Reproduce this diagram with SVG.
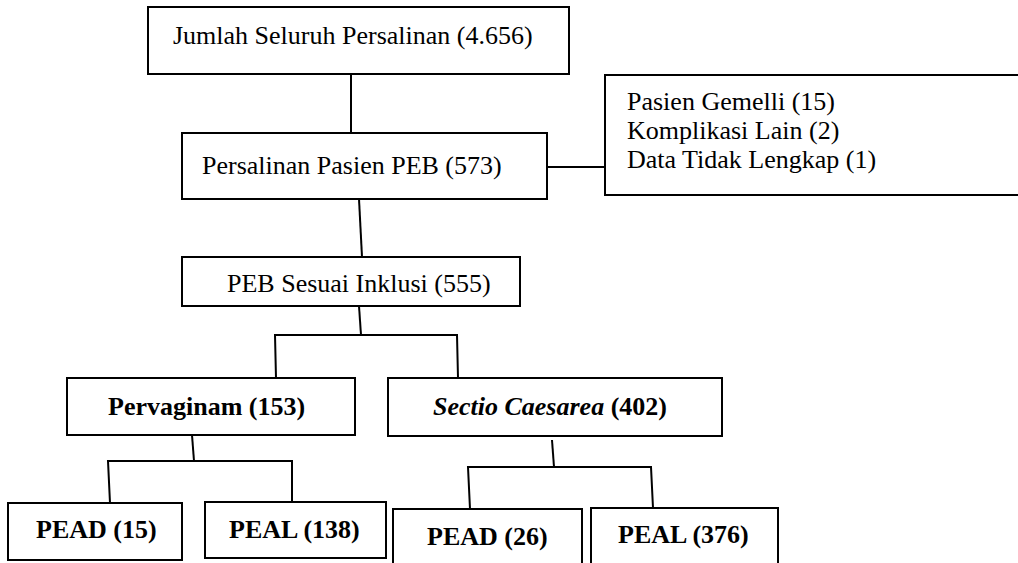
<svg xmlns="http://www.w3.org/2000/svg" width="1018" height="563" viewBox="0 0 1018 563">
<style>
.box{fill:#fff;stroke:#000;stroke-width:2}
.t{font-family:"Liberation Serif","Times New Roman",serif;font-size:26px;fill:#000}
.b{font-weight:bold}
.conn line,.conn polyline{stroke:#000;stroke-width:2;fill:none}
</style>
<rect width="1018" height="563" fill="#fff"/>
<g class="conn" id="connectors">
<line x1="351" y1="74" x2="351" y2="133"/>
<line x1="547" y1="167" x2="605" y2="167"/>
<line x1="359" y1="199" x2="362" y2="257"/>
<line x1="359" y1="306" x2="361" y2="335"/>
<polyline points="276,378 275,335 457,335 458,378"/>
<line x1="192" y1="435" x2="194" y2="461"/>
<polyline points="110,503 108,461 292,461 292,502"/>
<line x1="552" y1="440" x2="554" y2="467"/>
<polyline points="470,509 468,467 651,467 653,508"/>
</g>
<g id="n1"><rect class="box" x="148" y="7" width="421" height="67"/><text class="t" x="173" y="44">Jumlah Seluruh Persalinan (4.656)</text></g>
<g id="n2"><rect class="box" x="182" y="133" width="365" height="66"/><text class="t" x="202" y="174">Persalinan Pasien PEB (573)</text></g>
<g id="n3"><rect class="box" x="605" y="75" width="420" height="120"/>
<text class="t" x="627" y="110">Pasien Gemelli (15)</text>
<text class="t" x="627" y="139">Komplikasi Lain (2)</text>
<text class="t" x="627" y="168">Data Tidak Lengkap (1)</text></g>
<g id="n4"><rect class="box" x="182" y="257" width="338" height="49"/><text class="t" x="227" y="292">PEB Sesuai Inklusi (555)</text></g>
<g id="n5"><rect class="box" x="67" y="378" width="288" height="57"/><text class="t b" x="108" y="415">Pervaginam (153)</text></g>
<g id="n6"><rect class="box" x="388" y="378" width="334" height="58"/><text class="t b" x="433" y="415"><tspan font-style="italic">Sectio Caesarea</tspan> (402)</text></g>
<g id="n7"><rect class="box" x="8" y="503" width="174" height="57"/><text class="t b" x="36" y="538">PEAD (15)</text></g>
<g id="n8"><rect class="box" x="205" y="502" width="181" height="56"/><text class="t b" x="229" y="538">PEAL (138)</text></g>
<g id="n9"><rect class="box" x="393" y="509" width="189" height="70"/><text class="t b" x="427" y="545">PEAD (26)</text></g>
<g id="n10"><rect class="box" x="591" y="508" width="187" height="70"/><text class="t b" x="618" y="543">PEAL (376)</text></g>
</svg>
